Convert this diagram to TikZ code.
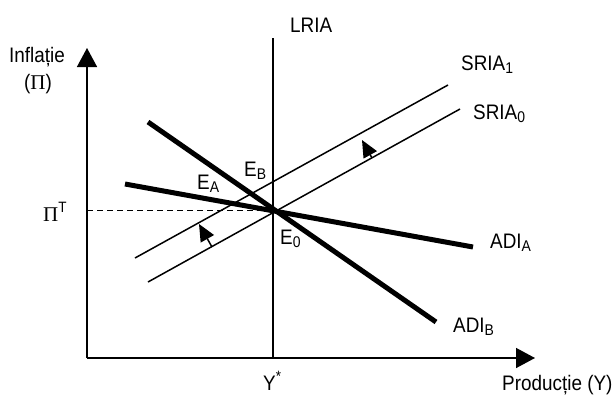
\documentclass[tikz,border=0pt]{standalone}
\usepackage{fontspec}
\setmainfont{Liberation Sans}[FakeStretch=0.9]
\newfontfamily\grk{Liberation Serif}
\usetikzlibrary{arrows.meta,positioning}
\newcommand{\lo}[1]{\raisebox{-0.3ex}{\fontsize{15.5}{15}\selectfont #1}}
\newcommand{\hi}[1]{\raisebox{0.75ex}{\fontsize{15}{15}\selectfont #1}}

\begin{document}
\begin{tikzpicture}[x=1pt,y=-1pt,font=\fontsize{21}{25}\selectfont,
  lbl/.style={inner sep=0pt,anchor=base west},
  thinln/.style={line width=1.5pt},
  thickln/.style={line width=5pt},
  axis/.style={line width=1.5pt,-{Triangle[width=20pt,length=19pt]}},
  moveln/.style={line width=1.5pt,-{Triangle[width=15pt,length=17pt]}}]
 \useasboundingbox (0,0) rectangle (615,394);
 \coordinate (O) at (87,358);
 \coordinate (ytip) at (87,48);
 \coordinate (xtip) at (535,358);
 \coordinate (E0) at (273,210);
 \coordinate (pilev) at (87,210);
 \coordinate (lriatop) at (273,38);
 \coordinate (lriabot) at (273,358);
 \coordinate (s0a) at (148,282);
 \coordinate (s0b) at (460,109);
 \coordinate (s1a) at (135,258);
 \coordinate (s1b) at (448,85);
 \coordinate (aa) at (125,184);
 \coordinate (ab) at (473,247);
 \coordinate (ba) at (148,122);
 \coordinate (bb) at (436,322);
 \coordinate (m1a) at (212,247);
 \coordinate (m1b) at (199,224);
 \coordinate (m2a) at (372,158);
 \coordinate (m2b) at (362,140);

 \node[lbl,anchor=base] (infl) at (37,62) {Inflație};
 \node[lbl,anchor=base] (pi) at (38,89) {({\grk Π})};
 \node[lbl] (pit) at (43,221) {{\grk Π}\hi{T}};
 \node[lbl] (lria) at (290,32) {LRIA};
 \node[lbl] (sria1) at (461,70) {SRIA\lo{1}};
 \node[lbl] (sria0) at (473,119) {SRIA\lo{0}};
 \node[lbl] (ea) at (197,189) {E\lo{A}};
 \node[lbl] (eb) at (244,176) {E\lo{B}};
 \node[lbl] (e0) at (280,244) {E\lo{0}};
 \node[lbl] (adia) at (490,248) {ADI\lo{A}};
 \node[lbl] (adib) at (453,332) {ADI\lo{B}};
 \node[lbl] (ystar) at (263,390) {Y\hi{*}};
 \node[lbl] (prod) at (502,390) {Producție (Y)};

 \draw[axis] (O) -- (ytip);
 \draw[axis] (O) -- (xtip);
 \draw[thinln] (lriabot) -- (lriatop);
 \draw[line width=1pt,dash pattern=on 6pt off 4pt] (pilev) -- (E0);
 \draw[thinln] (s0a) -- (s0b);
 \draw[thinln] (s1a) -- (s1b);
 \draw[thickln] (aa) -- (ab);
 \draw[thickln] (ba) -- (bb);
 \draw[moveln] (m1a) -- (m1b);
 \draw[moveln] (m2a) -- (m2b);
\end{tikzpicture}
\end{document}
